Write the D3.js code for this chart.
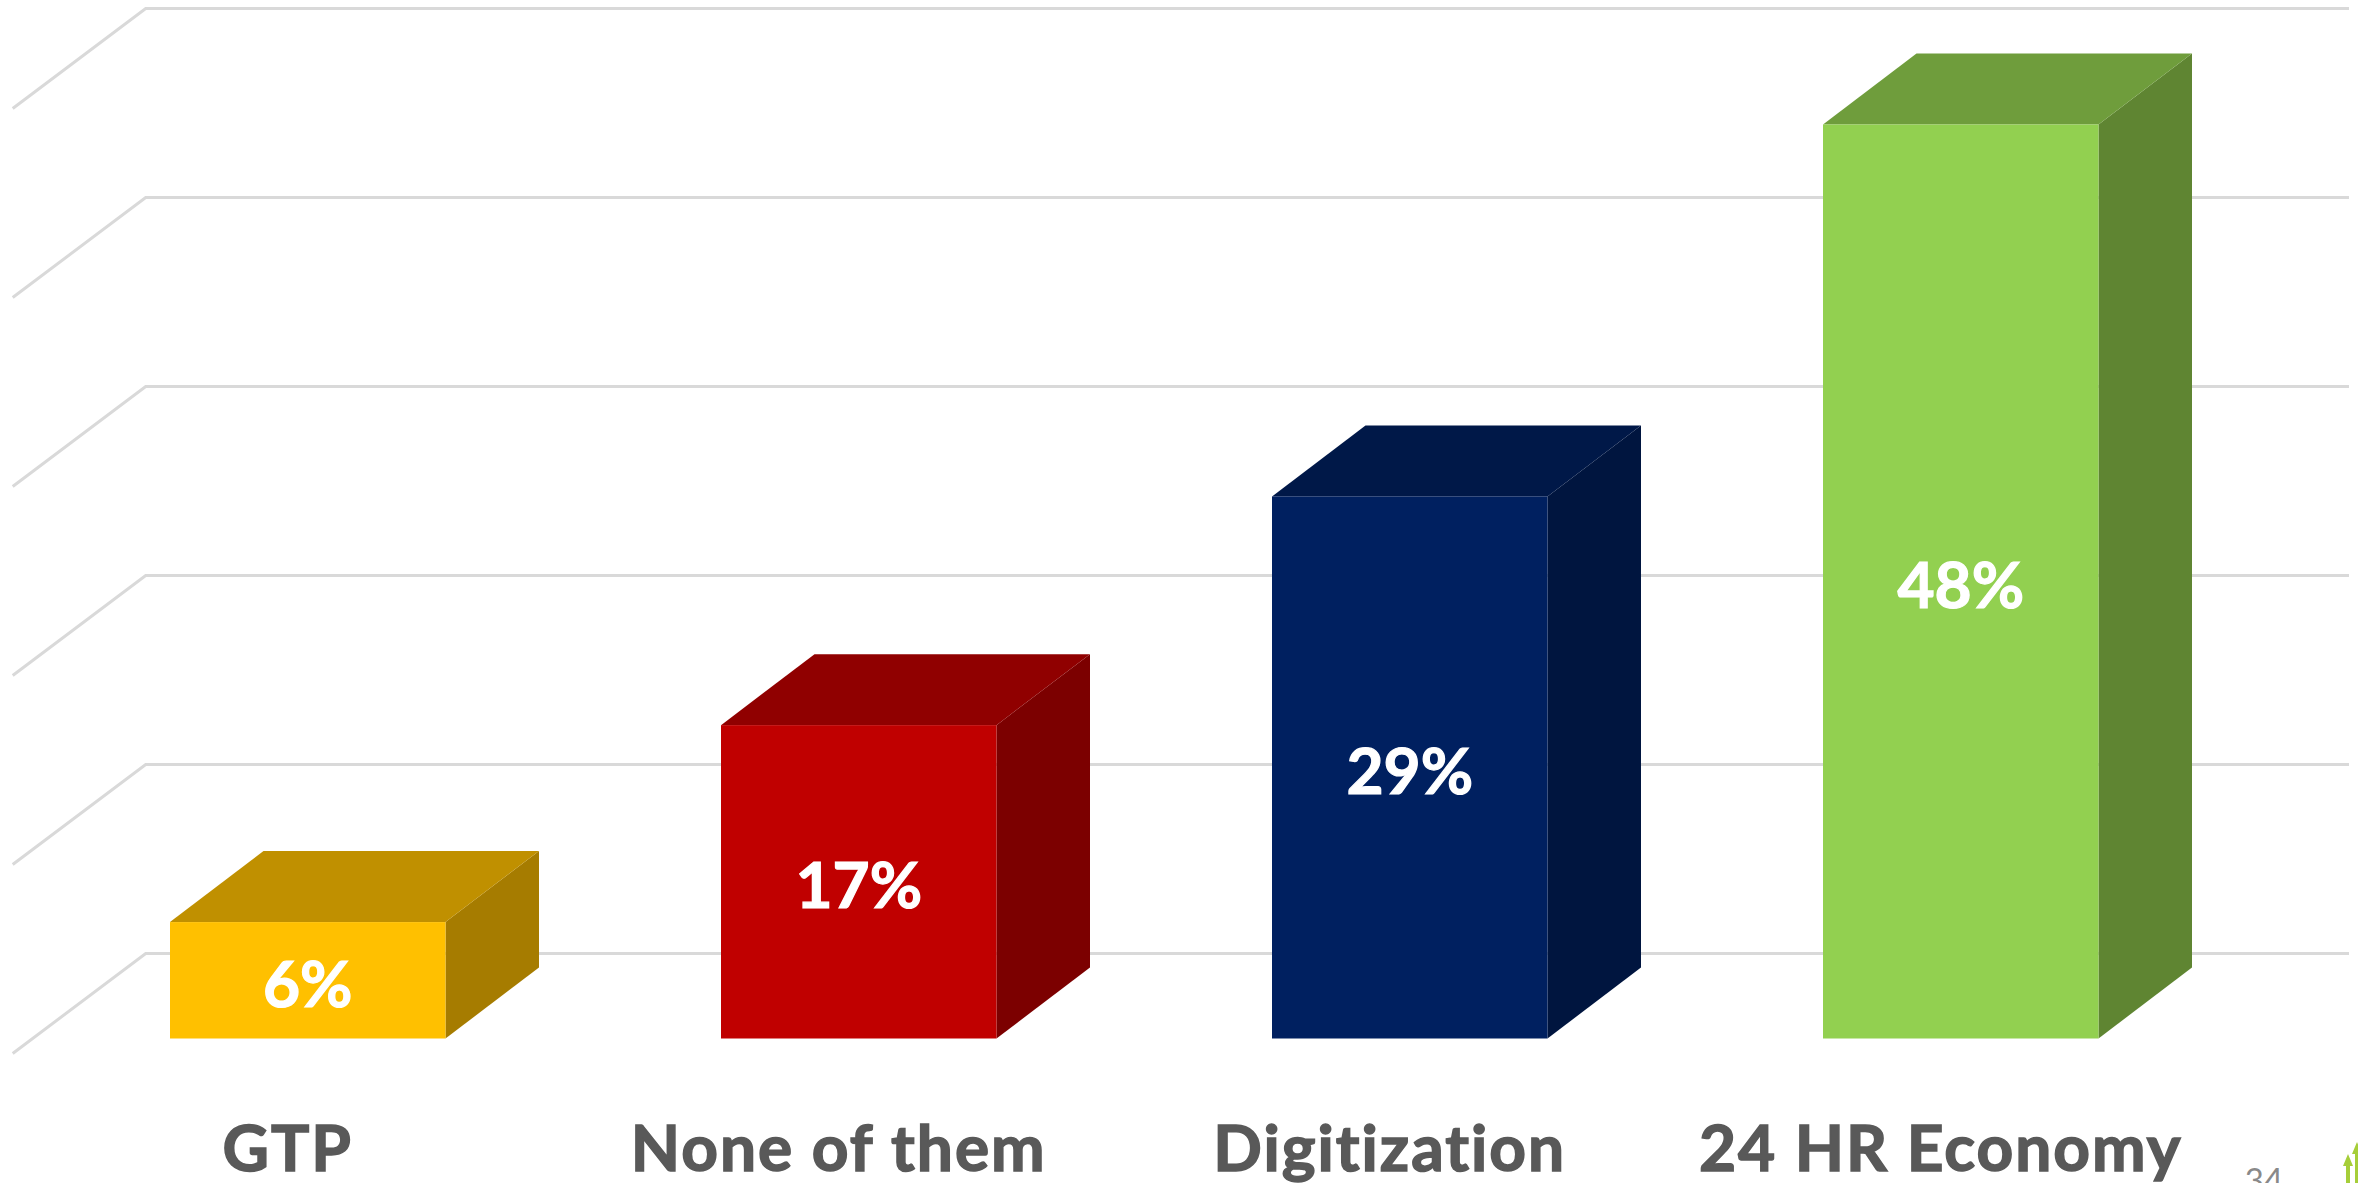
<!DOCTYPE html>
<html><head><meta charset="utf-8">
<script src="https://cdn.jsdelivr.net/npm/d3@7"></script>
<style>html,body{margin:0;padding:0;background:#fff;overflow:hidden}svg{display:block}</style>
</head><body><svg id="c" width="2358" height="1183"></svg>
<script>
const categories = ["GTP","None of them","Digitization","24 HR Economy"];
const values = [6.16,16.58,28.68,48.36];
const labels = ["6%","17%","29%","48%"];
const gridTicks = [0,10,20,30,40,50];
const frontColors = ["#FFC000","#C00000","#002060","#92D050"];
const topColors = ["#C09000","#900000","#001848","#6F9D3C"];
const sideColors = ["#A67C00","#7C0000","#00153F","#5F8532"];

const W=2358,H=1183;
const svg=d3.select("#c");
const x=d3.scaleBand().domain(categories).range([170,2098.5]).paddingInner(0.5).paddingOuter(0);
const y=d3.scaleLinear().domain([0,50]).range([1053.5,108.5]);
const wall={dx:133,dy:-100}, depth={dx:93.5,dy:-71}, inset=15;
const baseY=y(0)-inset;
const line=d3.line();

svg.append("g").selectAll("path").data(gridTicks).join("path")
 .attr("d",t=>line([[12.7,y(t)],[12.7+wall.dx,y(t)+wall.dy],[2349,y(t)+wall.dy]]))
 .attr("fill","none").attr("stroke","#D9D9D9").attr("stroke-width",3);

const g=svg.append("g").selectAll("g").data(categories).join("g");
const poly=pts=>line(pts)+"Z";
g.append("path").attr("fill",(d,i)=>sideColors[i]).attr("d",(d,i)=>{
  const r=x(d)+x.bandwidth(),t=y(values[i])-inset;
  return poly([[r,t],[r+depth.dx,t+depth.dy],[r+depth.dx,baseY+depth.dy],[r,baseY]]);});
g.append("path").attr("fill",(d,i)=>topColors[i]).attr("d",(d,i)=>{
  const l=x(d),r=l+x.bandwidth(),t=y(values[i])-inset;
  return poly([[l,t],[l+depth.dx,t+depth.dy],[r+depth.dx,t+depth.dy],[r,t]]);});
g.append("rect").attr("fill",(d,i)=>frontColors[i])
 .attr("x",d=>x(d)).attr("width",x.bandwidth())
 .attr("y",(d,i)=>y(values[i])-inset).attr("height",(d,i)=>baseY-y(values[i])+inset);
g.append("text").text((d,i)=>labels[i])
 .attr("x",d=>x(d)+x.bandwidth()/2)
 .attr("y",(d,i)=>(y(values[i])-inset+baseY)/2+4)
 .attr("dy","0.35em").attr("text-anchor","middle")
 .attr("font-family","Lato").attr("font-weight",700).attr("font-size",64).attr("fill","#fff")
 .attr("stroke","#fff").attr("stroke-width",1.2);

svg.append("g").selectAll("text").data(categories).join("text").text(d=>d)
 .attr("x",d=>x(d)+x.bandwidth()/2-20).attr("y",1171)
 .attr("text-anchor","middle").attr("font-family","Lato").attr("font-weight",700)
 .attr("font-size",64).attr("letter-spacing",2).attr("fill","#595959")
 .attr("stroke","#595959").attr("stroke-width",1.5);

svg.append("text").text("34").attr("x",2264).attr("y",1192).attr("text-anchor","middle")
 .attr("font-family","Lato").attr("font-size",33).attr("fill","#898989");

const arrow=(cx,top)=>poly([[cx,top],[cx+5,top+12],[cx+2,top+12],[cx+2,1183],[cx-2,1183],[cx-2,top+12],[cx-5,top+12]]);
svg.append("path").attr("d",arrow(2348,1154)).attr("fill","#A6CE39");
svg.append("path").attr("d",arrow(2357,1142)).attr("fill","#A6CE39");
</script></body></html>
